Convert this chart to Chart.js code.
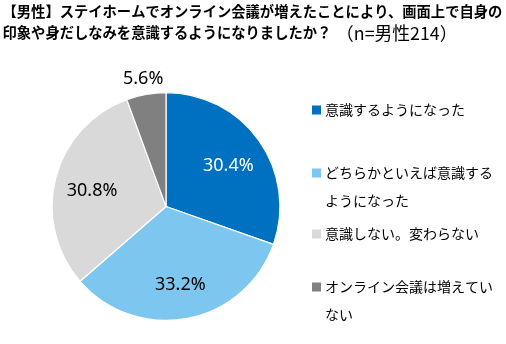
<!DOCTYPE html>
<html>
<head>
<meta charset="utf-8">
<script src="https://cdn.jsdelivr.net/npm/chart.js@4/dist/chart.umd.min.js"></script>
<style>
  html, body { margin: 0; padding: 0; background: #ffffff; }
  #wrap { position: relative; width: 506px; height: 344px; }
</style>
</head>
<body>
<div id="wrap"><canvas id="c" width="506" height="344"></canvas></div>
<script>
// ---- Data ----
const categories = [
  ["意識するようになった"],
  ["どちらかといえば意識する", "ようになった"],
  ["意識しない。変わらない"],
  ["オンライン会議は増えてい", "ない"]
];
const values = [30.4, 33.2, 30.8, 5.6];
const colors = ["#0070C0", "#7DC6EF", "#D9D9D9", "#808080"];
const labelColors = ["#ffffff", "#000000", "#000000", "#000000"];
const titleLine1 = "【男性】ステイホームでオンライン会議が増えたことにより、画面上で自身の";
const titleLine2Bold = "印象や身だしなみを意識するようになりましたか？";
const titleLine2Normal = "（n=男性214）";

// ---- Plugins ----
const titlePlugin = {
  id: 'customTitle',
  afterDraw(chart) {
    const ctx = chart.ctx;
    ctx.save();
    ctx.fillStyle = "#000000";
    ctx.textBaseline = "middle";
    ctx.textAlign = "left";
    ctx.font = "bold 14.3px 'Noto Sans CJK JP'";
    ctx.fillText(titleLine1, 2.5, 12);
    ctx.fillText(titleLine2Bold, 2.5, 33);
    ctx.font = "17.8px 'Noto Sans CJK JP'";
    ctx.fillText(titleLine2Normal, 336, 33);
    ctx.restore();
  }
};

const legendPlugin = {
  id: 'customLegend',
  afterDraw(chart) {
    const ctx = chart.ctx;
    const ys = [110, 173, 234, 287];
    const lineH = 28;
    ctx.save();
    ctx.textBaseline = "middle";
    ctx.textAlign = "left";
    ctx.font = "14px 'Noto Sans CJK JP'";
    chart.data.labels.forEach((lines, i) => {
      const y = ys[i];
      ctx.fillStyle = chart.data.datasets[0].backgroundColor[i];
      ctx.fillRect(312, y - 4.5, 9, 9);
      ctx.fillStyle = "#000000";
      lines.forEach((t, j) => ctx.fillText(t, 325, y + j * lineH));
    });
    ctx.restore();
  }
};

const dataLabelPlugin = {
  id: 'sliceLabels',
  afterDatasetsDraw(chart) {
    const ctx = chart.ctx;
    const meta = chart.getDatasetMeta(0);
    ctx.save();
    ctx.textAlign = "center";
    ctx.textBaseline = "middle";
    ctx.font = "18px 'Noto Sans'";
    meta.data.forEach((arc, i) => {
      const p = arc.getProps(['x', 'y', 'startAngle', 'endAngle', 'outerRadius'], true);
      const mid = (p.startAngle + p.endAngle) / 2;
      const outside = values[i] < 10;
      const f = outside ? 1.145 : 0.67;
      const x = p.x + Math.cos(mid) * p.outerRadius * f;
      const y = p.y + Math.sin(mid) * p.outerRadius * f + (outside ? 1 : 3);
      ctx.fillStyle = labelColors[i];
      ctx.fillText(values[i].toFixed(1) + "%", x, y);
    });
    ctx.restore();
  }
};

new Chart(document.getElementById('c'), {
  type: 'pie',
  data: {
    labels: categories,
    datasets: [{
      data: values,
      backgroundColor: colors,
      borderColor: "#ffffff",
      borderWidth: 1.2
    }]
  },
  options: {
    responsive: false,
    animation: false,
    layout: { padding: { left: 51.5, right: 225.5, top: 92, bottom: 23 } },
    plugins: {
      legend: { display: false },
      tooltip: { enabled: false },
      title: { display: false }
    }
  },
  plugins: [titlePlugin, legendPlugin, dataLabelPlugin]
});
</script>
</body>
</html>
